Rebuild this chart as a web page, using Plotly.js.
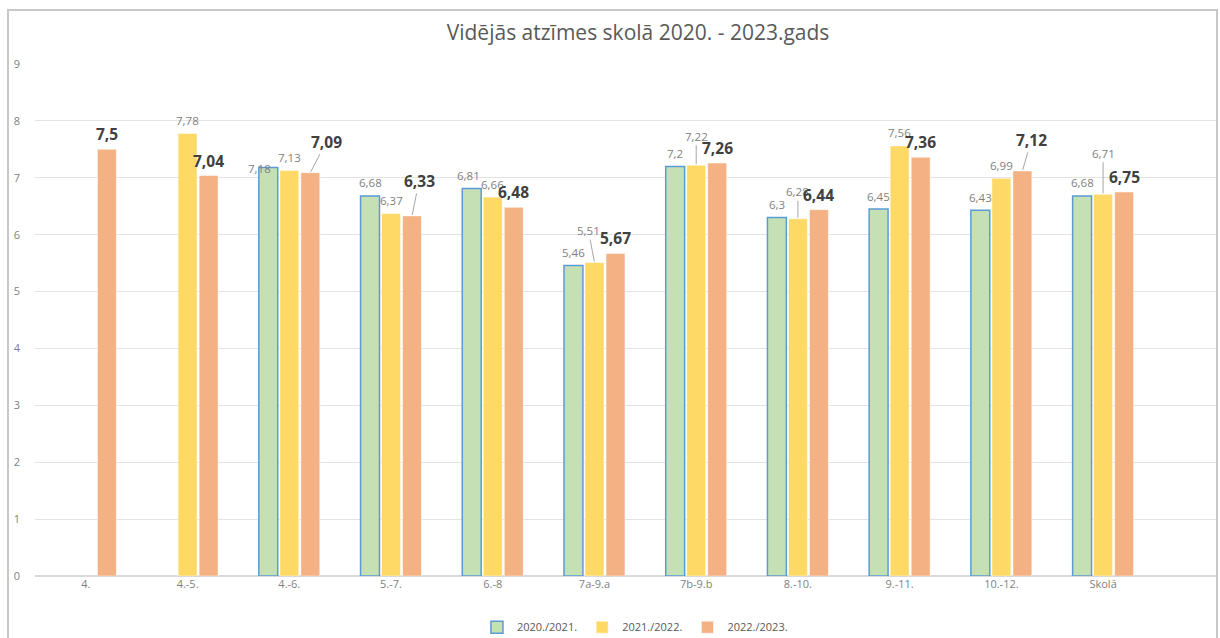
<!DOCTYPE html>
<html>
<head>
<meta charset="utf-8">
<script src="https://cdn.plot.ly/plotly-3.0.1.min.js"></script>
<style>html,body{margin:0;padding:0;background:#fff;}#chart{width:1220px;height:638px;}</style>
</head>
<body>
<div id="chart"></div>
<script>
// ---- data ----
const categories = ["4.", "4.-5.", "4.-6.", "5.-7.", "6.-8", "7a-9.a", "7b-9.b", "8.-10.", "9.-11.", "10.-12.", "Skolā"];
const seriesNames = ["2020./2021.", "2021./2022.", "2022./2023."];
const s2020 = [null, null, 7.18, 6.68, 6.81, 5.46, 7.2, 6.3, 6.45, 6.43, 6.68];
const s2021 = [null, 7.78, 7.13, 6.37, 6.66, 5.51, 7.22, 6.28, 7.56, 6.99, 6.71];
const s2022 = [7.5, 7.04, 7.09, 6.33, 6.48, 5.67, 7.26, 6.44, 7.36, 7.12, 6.75];
const yTicks = [0, 1, 2, 3, 4, 5, 6, 7, 8, 9];

// ---- styling ----
const series = [s2020, s2021, s2022];
const fills = ["#C5E0B4", "#FFD966", "#F4B183"];
const outlines = ["#5B9BD5", "#FFFFFF", "#FFFFFF"];
const outlineW = [1.5, 0.5, 0.5];
const bargap = 0.38;
// label nudges (px): key "series-category" -> [dx, dy, leaderLine]
const nudge = {
  "0-2": [-9, 1, false],
  "2-2": [16, -31, true],
  "2-3": [7, -35, true],
  "1-5": [-6, -32, true],
  "1-6": [0, -29, true],
  "1-7": [0, -27, true],
  "2-9": [9, -31, true],
  "1-10": [0, -41, true],
  "0-4": [-3, -13, false]
};

const fmt = v => String(v).replace('.', ',');

const traces = series.map((vals, i) => ({
  type: 'bar',
  name: seriesNames[i],
  x: categories,
  y: vals,
  marker: {color: fills[i], line: {color: outlines[i], width: outlineW[i]}},
  hoverinfo: 'none'
}));

const slot = (1 - bargap) / 3;
const annotations = [];
series.forEach((vals, i) => {
  vals.forEach((v, j) => {
    if (v === null) return;
    const bold = i === 2;
    const key = i + '-' + j;
    const def = [0, bold ? -15 : -13, false];
    const n = nudge[key] || def;
    const xpos = j + (i - 1) * slot;
    const font = bold
      ? {family: 'Open Sans, sans-serif', size: 15.5, color: '#404040', weight: 'bold'}
      : {family: 'Open Sans, sans-serif', size: 11.5, color: '#7F7F7F'};
    const text = bold ? '<b>' + fmt(v) + '</b>' : fmt(v);
    if (n[2]) {
      annotations.push({
        x: xpos, y: v, xref: 'x', yref: 'y', text: text, font: font,
        showarrow: true, arrowhead: 0, arrowwidth: 1, arrowcolor: '#A6A6A6',
        ax: n[0], ay: n[1], axref: 'pixel', ayref: 'pixel', standoff: 1,
        xanchor: 'center', yanchor: 'middle'
      });
    } else {
      annotations.push({
        x: xpos, y: v, xref: 'x', yref: 'y', text: text, font: font,
        showarrow: false, xshift: n[0], yshift: -n[1],
        xanchor: 'center', yanchor: 'middle'
      });
    }
  });
});

const layout = {
  width: 1220, height: 638,
  margin: {l: 35, r: 4, t: 64, b: 62, autoexpand: false},
  paper_bgcolor: '#FFFFFF', plot_bgcolor: '#FFFFFF',
  font: {family: 'Open Sans, sans-serif', color: '#7F7F7F', size: 11},
  title: {
    text: 'Vidējās atzīmes skolā 2020. - 2023.gads',
    font: {family: 'Open Sans, sans-serif', size: 21, color: '#595959'},
    x: 0.523, xref: 'container', xanchor: 'center',
    y: 1 - 33 / 638, yref: 'container', yanchor: 'middle'
  },
  barmode: 'group', bargap: bargap, bargroupgap: 0.1,
  xaxis: {
    type: 'category', range: [-0.5, 11.11], showgrid: false, zeroline: false,
    showline: false, ticks: '', tickfont: {size: 11, color: '#7F7F7F'}, fixedrange: true,
    automargin: false
  },
  yaxis: {
    range: [0, 9], tickvals: yTicks, ticktext: yTicks.map(String),
    showgrid: true, gridcolor: '#E3E3E3', gridwidth: 1,
    zeroline: true, zerolinecolor: '#D9D9D9', zerolinewidth: 1.5,
    showline: false, ticks: '', ticklabelstandoff: 14,
    tickfont: {size: 11, color: '#7F7F7F'}, fixedrange: true, automargin: false
  },
  showlegend: true,
  legend: {
    orientation: 'h', x: 0.508, xanchor: 'center', y: -0.1, yanchor: 'middle',
    font: {size: 11, color: '#595959'}, traceorder: 'normal'
  },
  annotations: annotations,
  shapes: [{
    type: 'rect', xref: 'paper', yref: 'paper',
    x0: (8 - 35) / 1181, x1: (1217 - 35) / 1181,
    y0: (576 - 645) / 512, y1: (576 - 10) / 512,
    line: {color: '#C8C8C8', width: 2}, fillcolor: 'rgba(0,0,0,0)', layer: 'below'
  }]
};

Plotly.newPlot('chart', traces, layout, {displayModeBar: false, staticPlot: true});
</script>
</body>
</html>
